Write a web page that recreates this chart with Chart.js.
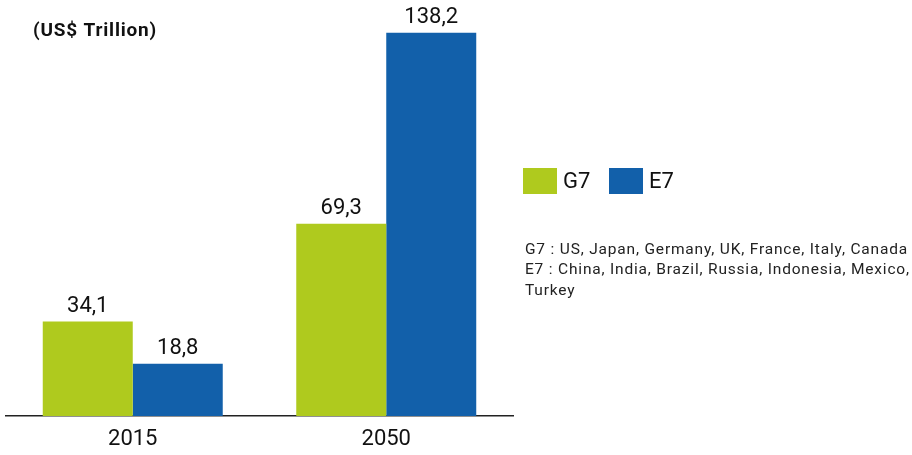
<!DOCTYPE html>
<html><head><meta charset="utf-8">
<script src="https://cdn.jsdelivr.net/npm/chart.js@4/dist/chart.umd.min.js"></script>
<style>html,body{margin:0;padding:0;background:#fff}#wrap{width:912px;height:455px;position:relative}</style>
</head><body><div id="wrap"><canvas id="c" width="912" height="455"></canvas></div>
<script>
const categories = ["2015", "2050"];
const g7Values = [34.1, 69.3];
const e7Values = [18.8, 138.2];
const seriesLabels = ["G7", "E7"];
const unitTitle = "(US$ Trillion)";
const notes = ["G7 : US, Japan, Germany, UK, France, Italy, Canada", "E7 : China, India, Brazil, Russia, Indonesia, Mexico,", "Turkey"];
const colors = ["#AFCA1E", "#1260AA"];
const FONT = "Roboto, 'DejaVu Sans', sans-serif";

function spacingFor(ctx, text, target) {
  ctx.letterSpacing = '0px';
  const w = ctx.measureText(text).width;
  return Math.max(0, (target - w) / text.length);
}

const extras = {
  id: 'extras',
  afterDatasetsDraw(chart) {
    const ctx = chart.ctx;
    ctx.save();
    // value labels
    ctx.fillStyle = '#111';
    ctx.font = '22px ' + FONT;
    ctx.textAlign = 'center';
    ctx.textBaseline = 'bottom';
    chart.data.datasets.forEach((ds, i) => {
      chart.getDatasetMeta(i).data.forEach((bar, j) => {
        ctx.fillText(ds.data[j].toFixed(1).replace('.', ','), bar.x, bar.y - 4);
      });
    });
    // title
    ctx.font = 'bold 19px ' + FONT;
    ctx.textAlign = 'left';
    ctx.textBaseline = 'middle';
    const ts = spacingFor(ctx, unitTitle, 124);
    ctx.letterSpacing = ts + 'px';
    ctx.fillText(unitTitle, 33, 31);
    ctx.letterSpacing = '0px';
    // legend
    const lx = [523, 609];
    chart.data.datasets.forEach((ds, i) => {
      ctx.fillStyle = ds.backgroundColor;
      ctx.fillRect(lx[i], 168, 34, 26);
      ctx.fillStyle = '#111';
      ctx.font = '22px ' + FONT;
      ctx.fillText(ds.label, lx[i] + 40, 182);
    });
    // notes
    ctx.font = '15.5px ' + FONT;
    ctx.fillStyle = '#222';
    const ns = spacingFor(ctx, notes[0], 383);
    ctx.letterSpacing = ns + 'px';
    notes.forEach((t, k) => ctx.fillText(t, 525, 250 + k * 20.5));
    ctx.restore();
  }
};

new Chart(document.getElementById('c'), {
  type: 'bar',
  data: {
    labels: categories,
    datasets: [
      { label: seriesLabels[0], data: g7Values, backgroundColor: colors[0] },
      { label: seriesLabels[1], data: e7Values, backgroundColor: colors[1] }
    ]
  },
  options: {
    responsive: false,
    animation: false,
    layout: { padding: { left: 6, right: 399, top: 0, bottom: 0 } },
    datasets: { bar: { categoryPercentage: 0.71, barPercentage: 1.0, borderWidth: 0 } },
    plugins: { legend: { display: false }, tooltip: { enabled: false } },
    scales: {
      x: {
        grid: { display: false, drawTicks: false },
        border: { display: true, color: '#222', width: 1.5 },
        ticks: { color: '#111', font: { family: FONT, size: 22 }, padding: 10 },
        afterFit(scale) { scale.height = 39; }
      },
      y: {
        display: false,
        min: 0, max: 150
      }
    }
  },
  plugins: [extras]
});
</script></body></html>
